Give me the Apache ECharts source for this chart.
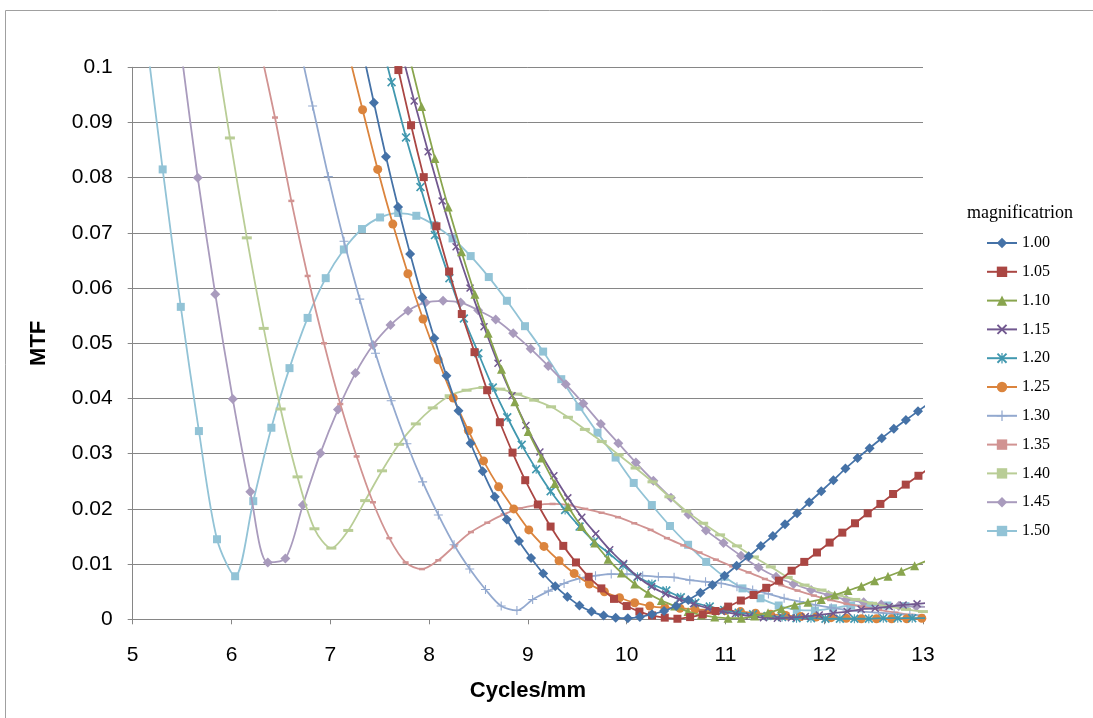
<!DOCTYPE html>
<html>
<head>
<meta charset="utf-8">
<script src="https://cdn.jsdelivr.net/npm/echarts@6/dist/echarts.min.js"></script>
<style>
  html, body { margin: 0; padding: 0; background: #fff; }
  #chart { width: 1093px; height: 718px; }
</style>
</head>
<body>
<div id="chart"></div>
<script>
// series names (legend)
var mags = ['1.00', '1.05', '1.10', '1.15', '1.20', '1.25', '1.30', '1.35', '1.40', '1.45', '1.50'];

// first sample (cycles/mm) and sample spacing of each series
var xStart = [7.319, 7.561, 7.789, 7.708, 7.474, 7.174, 6.662, 6.275, 5.813, 5.481, 5.120];
var xStep = [0.1224, 0.1284, 0.1349, 0.1414, 0.1464, 0.1530, 0.1591, 0.1653, 0.1711, 0.1774, 0.1834];

// MTF values
var mtf100 = [0.1037, 0.0936, 0.0838, 0.0747, 0.0662, 0.0583, 0.0509, 0.0441, 0.0378, 0.0319, 0.0268,
    0.0222, 0.0181, 0.0142, 0.0111, 0.0083, 0.0060, 0.0041, 0.0025, 0.0014, 0.0007,
    0.0003, 0.0002, 0.0004, 0.0009, 0.0015, 0.0024, 0.0035, 0.0048, 0.0062, 0.0079,
    0.0097, 0.0114, 0.0133, 0.0151, 0.0172, 0.0192, 0.0212, 0.0232, 0.0252, 0.0273,
    0.0292, 0.0310, 0.0328, 0.0345, 0.0361, 0.0377, 0.0393];
var mtf105 = [0.1095, 0.0995, 0.0895, 0.0801, 0.0712, 0.0630, 0.0553, 0.0484, 0.0415, 0.0357, 0.0302,
    0.0252, 0.0208, 0.0168, 0.0133, 0.0103, 0.0077, 0.0056, 0.0037, 0.0024, 0.0014,
    0.0007, 0.0003, 0.0001, 0.0004, 0.0009, 0.0015, 0.0023, 0.0034, 0.0044, 0.0057,
    0.0070, 0.0088, 0.0104, 0.0121, 0.0139, 0.0157, 0.0174, 0.0192, 0.0209, 0.0227,
    0.0244, 0.0260, 0.0276];
var mtf110 = [0.1027, 0.0929, 0.0835, 0.0747, 0.0666, 0.0589, 0.0518, 0.0453, 0.0394, 0.0340, 0.0292,
    0.0246, 0.0204, 0.0168, 0.0138, 0.0109, 0.0084, 0.0064, 0.0047, 0.0034, 0.0024,
    0.0014, 0.0008, 0.0004, 0.0002, 0.0002, 0.0006, 0.0012, 0.0019, 0.0026, 0.0031,
    0.0036, 0.0044, 0.0052, 0.0060, 0.0070, 0.0078, 0.0087, 0.0097, 0.0107];
var mtf115 = [0.1037, 0.0939, 0.0847, 0.0758, 0.0675, 0.0600, 0.0530, 0.0464, 0.0405, 0.0351, 0.0303,
    0.0260, 0.0220, 0.0185, 0.0155, 0.0126, 0.0101, 0.0077, 0.0059, 0.0046, 0.0036,
    0.0028, 0.0020, 0.0014, 0.0010, 0.0006, 0.0003, 0.0002, 0.0003, 0.0005, 0.0008,
    0.0011, 0.0014, 0.0018, 0.0020, 0.0023, 0.0026, 0.0028, 0.0030];
var mtf120 = [0.1077, 0.0973, 0.0873, 0.0783, 0.0696, 0.0618, 0.0545, 0.0482, 0.0420, 0.0366, 0.0316,
    0.0272, 0.0232, 0.0198, 0.0168, 0.0141, 0.0120, 0.0098, 0.0077, 0.0064, 0.0052,
    0.0040, 0.0030, 0.0023, 0.0017, 0.0012, 0.0009, 0.0006, 0.0004, 0.0002, 0.0002,
    0.0001, 0.0001, 0.0001, 0.0001, 0.0002, 0.0002, 0.0002, 0.0002];
var mtf125 = [0.1033, 0.0923, 0.0815, 0.0716, 0.0626, 0.0544, 0.0470, 0.0401, 0.0342, 0.0287, 0.0240,
    0.0200, 0.0162, 0.0132, 0.0106, 0.0083, 0.0064, 0.0050, 0.0039, 0.0030, 0.0024,
    0.0021, 0.0020, 0.0018, 0.0017, 0.0016, 0.0014, 0.0011, 0.0009, 0.0007, 0.0005,
    0.0004, 0.0003, 0.0002, 0.0001, 0.0001, 0.0001, 0.0001, 0.0002, 0.0002];
var mtf130 = [0.1060, 0.0930, 0.0802, 0.0685, 0.0580, 0.0482, 0.0396, 0.0318, 0.0249, 0.0189, 0.0135,
    0.0091, 0.0054, 0.0024, 0.0016, 0.0036, 0.0051, 0.0065, 0.0074, 0.0079, 0.0082,
    0.0082, 0.0079, 0.0077, 0.0076, 0.0071, 0.0068, 0.0065, 0.0059, 0.0053, 0.0046,
    0.0038, 0.0032, 0.0026, 0.0021, 0.0017, 0.0014, 0.0012, 0.0010, 0.0008, 0.0007];
var mtf135 = [0.1046, 0.0909, 0.0758, 0.0622, 0.0500, 0.0390, 0.0295, 0.0212, 0.0147, 0.0103, 0.0091,
    0.0107, 0.0133, 0.0158, 0.0175, 0.0190, 0.0201, 0.0207, 0.0209, 0.0207, 0.0200,
    0.0193, 0.0185, 0.0174, 0.0162, 0.0147, 0.0134, 0.0121, 0.0108, 0.0096, 0.0085,
    0.0073, 0.0062, 0.0052, 0.0043, 0.0035, 0.0028, 0.0023, 0.0017, 0.0012, 0.0008, 0.0006];
var mtf140 = [0.1067, 0.0872, 0.0691, 0.0527, 0.0381, 0.0258, 0.0164, 0.0129, 0.0161, 0.0215, 0.0269,
    0.0317, 0.0354, 0.0383, 0.0405, 0.0415, 0.0420, 0.0417, 0.0408, 0.0397, 0.0385,
    0.0366, 0.0344, 0.0322, 0.0298, 0.0274, 0.0249, 0.0222, 0.0196, 0.0174, 0.0153,
    0.0133, 0.0113, 0.0095, 0.0076, 0.0062, 0.0053, 0.0044, 0.0036, 0.0029, 0.0023,
    0.0018, 0.0014, 0.0011];
var mtf145 = [0.1042, 0.0800, 0.0589, 0.0399, 0.0231, 0.0103, 0.0110, 0.0207, 0.0301, 0.0380, 0.0446,
    0.0497, 0.0533, 0.0559, 0.0574, 0.0577, 0.0574, 0.0560, 0.0543, 0.0518, 0.0490,
    0.0459, 0.0426, 0.0391, 0.0354, 0.0319, 0.0284, 0.0251, 0.0220, 0.0190, 0.0161,
    0.0138, 0.0115, 0.0094, 0.0077, 0.0064, 0.0053, 0.0044, 0.0036, 0.0031, 0.0027,
    0.0024, 0.0023, 0.0022];
var mtf150 = [0.1080, 0.0815, 0.0566, 0.0341, 0.0145, 0.0078, 0.0214, 0.0347, 0.0455, 0.0546, 0.0618,
    0.0670, 0.0707, 0.0728, 0.0736, 0.0731, 0.0714, 0.0690, 0.0658, 0.0620, 0.0577,
    0.0531, 0.0485, 0.0435, 0.0385, 0.0338, 0.0293, 0.0247, 0.0207, 0.0169, 0.0135,
    0.0104, 0.0077, 0.0056, 0.0038, 0.0025, 0.0017, 0.0016, 0.0020, 0.0025, 0.0025,
    0.0025, 0.0024, 0.0023];

var mtfAll = [mtf100, mtf105, mtf110, mtf115, mtf120, mtf125, mtf130, mtf135, mtf140, mtf145, mtf150];
var yTicks = [0, 0.01, 0.02, 0.03, 0.04, 0.05, 0.06, 0.07, 0.08, 0.09, 0.1];

var colors = ['#4572A7', '#AA4643', '#89A54E', '#71588F', '#4198AF', '#DB843D',
    '#93A9CF', '#D19392', '#B9CD96', '#A99BBD', '#92C3D6'];

var xMark = 'path://M0,1.3L1.3,0L5,3.7L8.7,0L10,1.3L6.3,5L10,8.7L8.7,10L5,6.3L1.3,10L0,8.7L3.7,5Z';
var starMark = 'path://M0,1.3L1.3,0L5,3.7L8.7,0L10,1.3L6.3,5L10,8.7L8.7,10L5,6.3L1.3,10L0,8.7L3.7,5Z M4.4,0L5.6,0L5.6,10L4.4,10Z';
var plusMark = 'path://M4.4,0L5.6,0L5.6,4.4L10,4.4L10,5.6L5.6,5.6L5.6,10L4.4,10L4.4,5.6L0,5.6L0,4.4L4.4,4.4Z';
var symbols = ['diamond', 'rect', 'triangle', xMark, starMark, 'circle', plusMark, 'rect', 'rect', 'diamond', 'rect'];
var symbolSizes = [10, 8, 9, 8, 9, 9, 9, [6, 2.5], [10, 3], 10, 8];

var myChart = echarts.init(document.getElementById('chart'));

var seriesList = [];
mags.forEach(function (name, i) {
    var pts = [];
    mtfAll[i].forEach(function (v, k) {
        pts.push([xStart[i] + k * xStep[i], v]);
    });
    seriesList.push({
        name: name,
        type: 'line',
        smooth: 0.3,
        data: pts,
        symbol: symbols[i],
        symbolSize: symbolSizes[i],
        showAllSymbol: true,
        clip: true,
        lineStyle: { color: colors[i], width: 1.8 },
        itemStyle: { color: colors[i], borderWidth: 0 },
        z: 20 - i
    });
});

var option = {
    animation: false,
    backgroundColor: '#fff',
    color: colors,
    title: {
        text: 'magnificatrion',
        left: 962,
        top: 199,
        textStyle: { fontFamily: 'Liberation Serif', fontSize: 18, fontWeight: 'normal', color: '#000' }
    },
    legend: {
        orient: 'vertical',
        left: 981,
        top: 230,
        itemWidth: 30,
        itemHeight: 13,
        itemGap: 12.8,
        data: mags,
        textStyle: { fontFamily: 'Liberation Serif', fontSize: 16, color: '#000', lineHeight: 16 }
    },
    grid: {
        left: 132.7,
        right: 170,
        top: 67.3,
        bottom: 98.7
    },
    xAxis: {
        type: 'value',
        min: 5,
        max: 13,
        interval: 1,
        name: 'Cycles/mm',
        nameLocation: 'middle',
        nameGap: 61,
        nameTextStyle: { fontFamily: 'Liberation Sans', fontSize: 22, fontWeight: 'bold', color: '#000' },
        axisLine: { lineStyle: { color: '#868686', width: 1 } },
        axisTick: { show: true, length: 5, lineStyle: { color: '#868686' } },
        splitLine: { show: false },
        axisLabel: { margin: 25, fontFamily: 'Liberation Sans', fontSize: 21, color: '#000' }
    },
    yAxis: {
        type: 'value',
        min: yTicks[0],
        max: yTicks[yTicks.length - 1],
        interval: 0.01,
        name: 'MTF',
        nameLocation: 'middle',
        nameGap: 83,
        nameTextStyle: { fontFamily: 'Liberation Sans', fontSize: 22, fontWeight: 'bold', color: '#000' },
        axisLine: { show: true, lineStyle: { color: '#868686', width: 1 } },
        axisTick: { show: true, length: 5, lineStyle: { color: '#868686' } },
        splitLine: { show: true, lineStyle: { color: '#868686', width: 1 } },
        axisLabel: {
            margin: 20,
            fontFamily: 'Liberation Sans',
            fontSize: 21,
            color: '#000',
            formatter: function (v) { return String(+v.toFixed(2)); }
        }
    },
    graphic: [{
        type: 'rect',
        shape: { x: 5.5, y: 10.5, width: 1100, height: 720 },
        style: { fill: 'none', stroke: '#a0a0a0', lineWidth: 1 },
        silent: true
    }],
    series: seriesList
};

myChart.setOption(option);
</script>
</body>
</html>
